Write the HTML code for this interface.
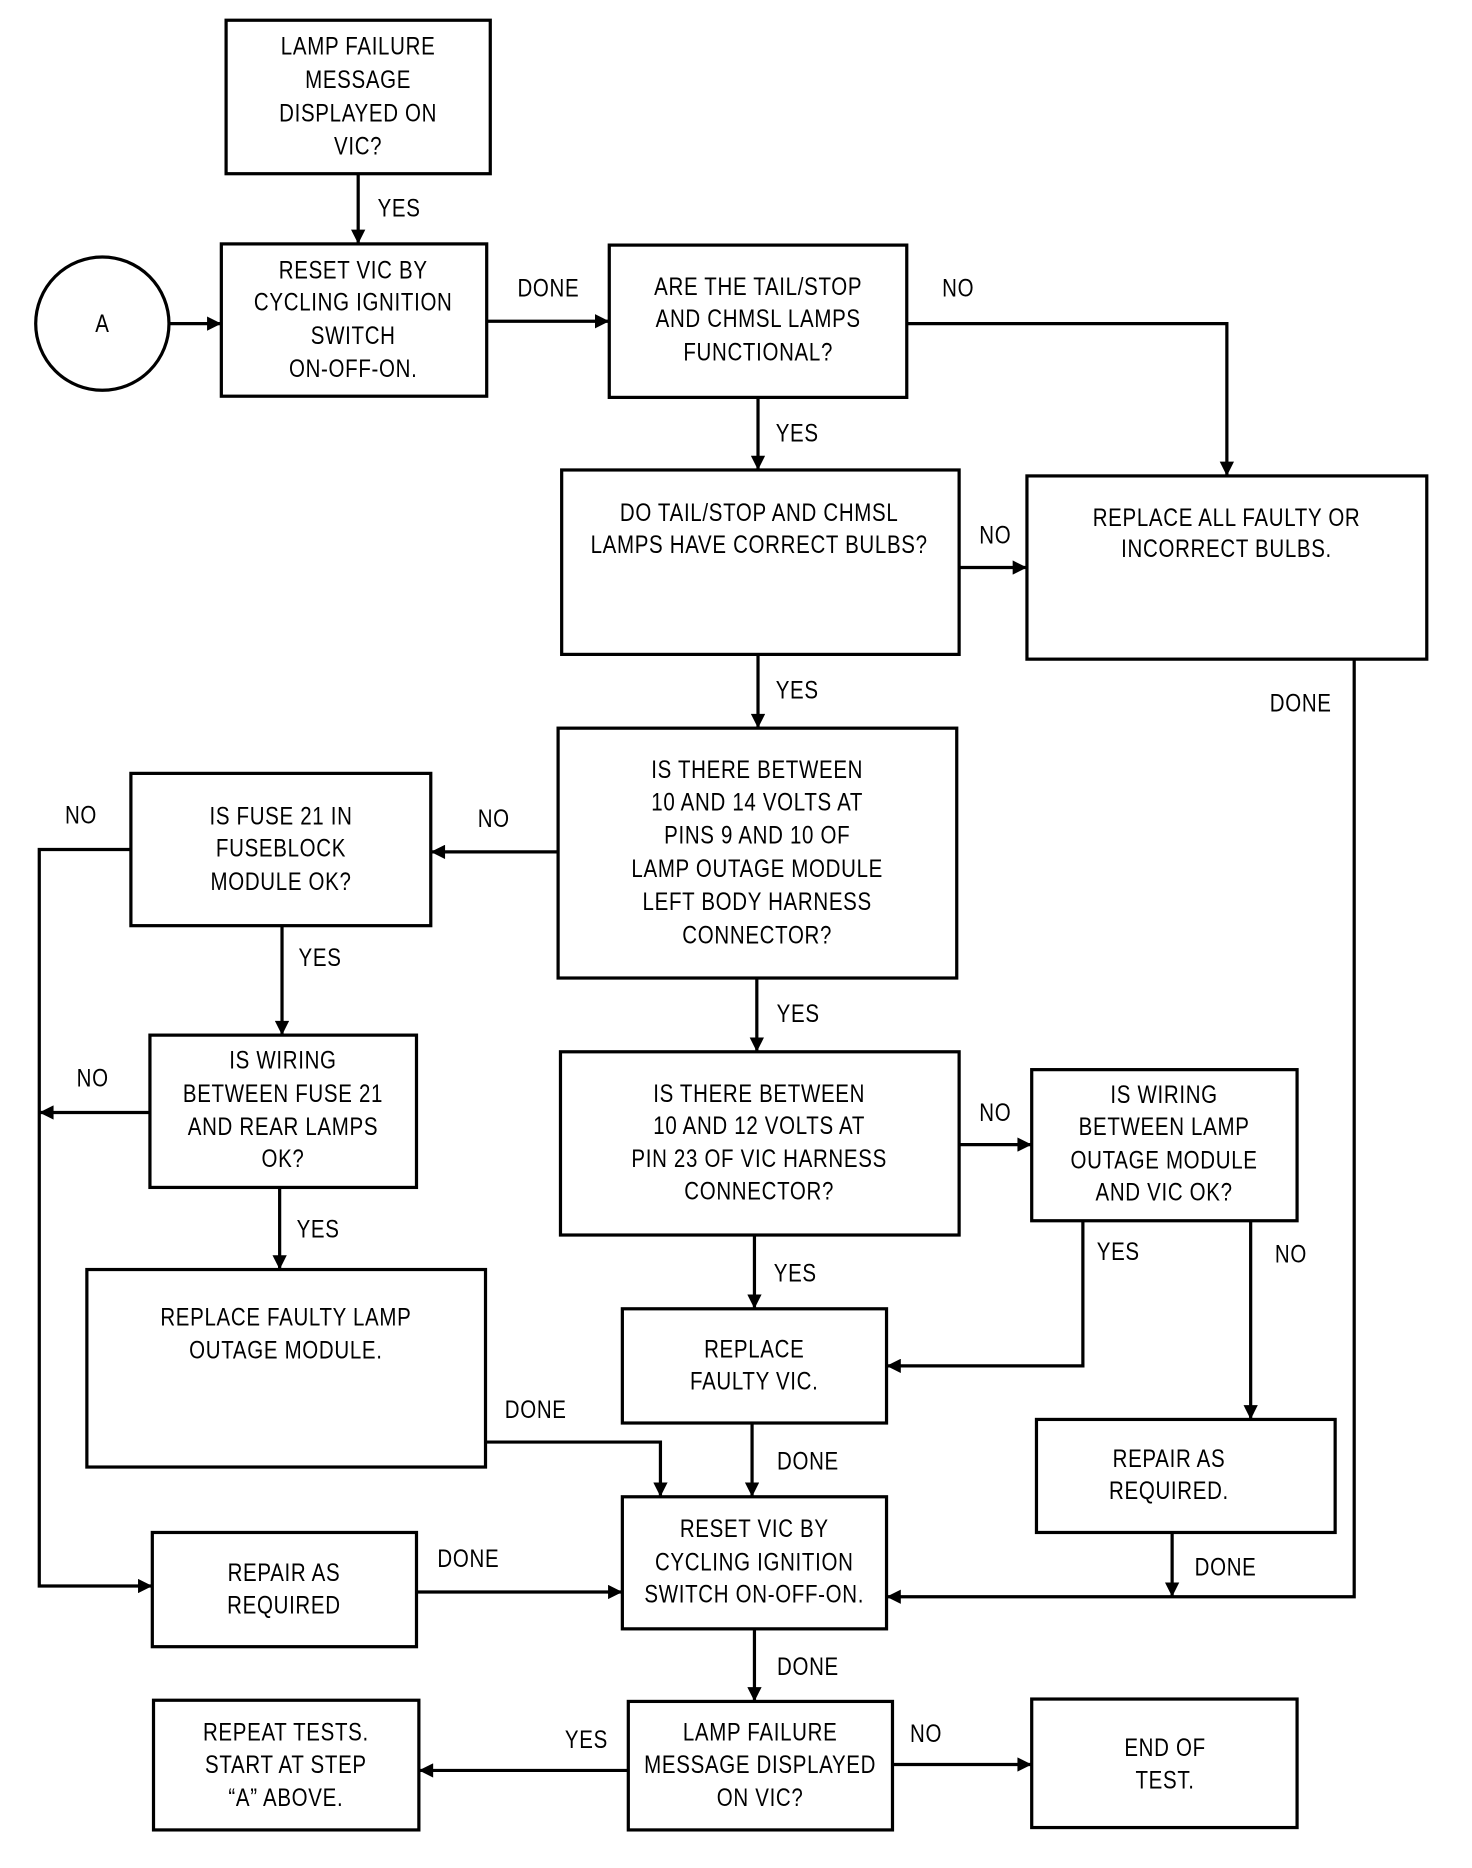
<!DOCTYPE html>
<html><head><meta charset="utf-8"><style>
html,body{margin:0;padding:0;background:#fff;}
svg{display:block;}
text{font-family:"Liberation Sans",sans-serif;font-size:21px;fill:#000;text-anchor:middle;letter-spacing:0.7px;}
</style></head><body>
<svg width="1472" height="1868" viewBox="0 0 1237 1570" preserveAspectRatio="none" xmlns="http://www.w3.org/2000/svg">
<defs>
<marker id="b" viewBox="0 0 10 10" refX="10" refY="5" markerWidth="20" markerHeight="12" markerUnits="userSpaceOnUse" orient="auto"><path d="M0,0 L10,5 L0,10 z" fill="#000"/></marker></defs>
<g fill="none" stroke="#000" stroke-width="2.7">
<rect x="190" y="17" width="222" height="129"/>
<circle cx="86" cy="272" r="56"/>
<rect x="186" y="205" width="223" height="128"/>
<rect x="512" y="206" width="250" height="128"/>
<rect x="472" y="395" width="334" height="155"/>
<rect x="863" y="400" width="336" height="154"/>
<rect x="469" y="612" width="335" height="210"/>
<rect x="110" y="650" width="252" height="128"/>
<rect x="126" y="870" width="224" height="128"/>
<rect x="73" y="1067" width="335" height="166"/>
<rect x="471" y="884" width="335" height="154"/>
<rect x="867" y="899" width="223" height="127"/>
<rect x="523" y="1100" width="222" height="96"/>
<rect x="871" y="1193" width="251" height="95"/>
<rect x="523" y="1258" width="222" height="111"/>
<rect x="128" y="1288" width="222" height="96"/>
<rect x="528" y="1430" width="222" height="108"/>
<rect x="129" y="1429" width="223" height="109"/>
<rect x="867" y="1428" width="223" height="108"/>
</g>
<g fill="none" stroke="#000" stroke-width="2.7" marker-end="url(#b)">
<path d="M301,146 V205"/>
<path d="M142,272 H186"/>
<path d="M409,270 H512"/>
<path d="M762,272 H1031 V400"/>
<path d="M637,334 V395"/>
<path d="M806,477 H863"/>
<path d="M637,550 V612"/>
<path d="M1138,554 V1342 H745"/>
<path d="M469,716 H362"/>
<path d="M110,714 H33 V1333 H128"/>
<path d="M237,778 V870"/>
<path d="M126,935 H33"/>
<path d="M235,998 V1067"/>
<path d="M408,1212 H555 V1258"/>
<path d="M636,822 V884"/>
<path d="M806,962 H867"/>
<path d="M634,1038 V1100"/>
<path d="M910,1026 V1148 H745"/>
<path d="M1051,1026 V1193"/>
<path d="M632,1196 V1258"/>
<path d="M985,1288 V1342"/>
<path d="M350,1338 H523"/>
<path d="M634,1369 V1430"/>
<path d="M528,1488 H352"/>
<path d="M750,1483 H867"/>
</g>
<g transform="scale(0.82 1)">
<text x="367" y="46">LAMP FAILURE</text><text x="367" y="74">MESSAGE</text><text x="367" y="102">DISPLAYED ON</text><text x="367" y="130">VIC?</text>
<text x="105" y="279">A</text>
<text x="362" y="234">RESET VIC BY</text><text x="362" y="261">CYCLING IGNITION</text><text x="362" y="289">SWITCH</text><text x="362" y="317">ON-OFF-ON.</text>
<text x="777" y="248">ARE THE TAIL/STOP</text><text x="777" y="275">AND CHMSL LAMPS</text><text x="777" y="303">FUNCTIONAL?</text>
<text x="778" y="438">DO TAIL/STOP AND CHMSL</text><text x="778" y="465">LAMPS HAVE CORRECT BULBS?</text>
<text x="1257" y="442">REPLACE ALL FAULTY OR</text><text x="1257" y="468">INCORRECT BULBS.</text>
<text x="776" y="654">IS THERE BETWEEN</text><text x="776" y="681">10 AND 14 VOLTS AT</text><text x="776" y="709">PINS 9 AND 10 OF</text><text x="776" y="737">LAMP OUTAGE MODULE</text><text x="776" y="765">LEFT BODY HARNESS</text><text x="776" y="793">CONNECTOR?</text>
<text x="288" y="693">IS FUSE 21 IN</text><text x="288" y="720">FUSEBLOCK</text><text x="288" y="748">MODULE OK?</text>
<text x="290" y="898">IS WIRING</text><text x="290" y="926">BETWEEN FUSE 21</text><text x="290" y="954">AND REAR LAMPS</text><text x="290" y="981">OK?</text>
<text x="293" y="1114">REPLACE FAULTY LAMP</text><text x="293" y="1142">OUTAGE MODULE.</text>
<text x="778" y="926">IS THERE BETWEEN</text><text x="778" y="953">10 AND 12 VOLTS AT</text><text x="778" y="981">PIN 23 OF VIC HARNESS</text><text x="778" y="1008">CONNECTOR?</text>
<text x="1193" y="927">IS WIRING</text><text x="1193" y="954">BETWEEN LAMP</text><text x="1193" y="982">OUTAGE MODULE</text><text x="1193" y="1009">AND VIC OK?</text>
<text x="773" y="1141">REPLACE</text><text x="773" y="1168">FAULTY VIC.</text>
<text x="1198" y="1233">REPAIR AS</text><text x="1198" y="1260">REQUIRED.</text>
<text x="773" y="1292">RESET VIC BY</text><text x="773" y="1320">CYCLING IGNITION</text><text x="773" y="1347">SWITCH ON-OFF-ON.</text>
<text x="291" y="1329">REPAIR AS</text><text x="291" y="1356">REQUIRED</text>
<text x="779" y="1463">LAMP FAILURE</text><text x="779" y="1490">MESSAGE DISPLAYED</text><text x="779" y="1518">ON VIC?</text>
<text x="293" y="1463">REPEAT TESTS.</text><text x="293" y="1490">START AT STEP</text><text x="293" y="1518">“A” ABOVE.</text>
<text x="1194" y="1476">END OF</text><text x="1194" y="1503">TEST.</text>
<text x="409" y="182">YES</text>
<text x="562" y="249">DONE</text>
<text x="982" y="249">NO</text>
<text x="817" y="371">YES</text>
<text x="1020" y="457">NO</text>
<text x="817" y="587">YES</text>
<text x="1333" y="598">DONE</text>
<text x="506" y="695">NO</text>
<text x="83" y="692">NO</text>
<text x="328" y="812">YES</text>
<text x="95" y="913">NO</text>
<text x="326" y="1040">YES</text>
<text x="549" y="1192">DONE</text>
<text x="818" y="859">YES</text>
<text x="1020" y="942">NO</text>
<text x="815" y="1077">YES</text>
<text x="1146" y="1059">YES</text>
<text x="1323" y="1061">NO</text>
<text x="828" y="1235">DONE</text>
<text x="1256" y="1324">DONE</text>
<text x="480" y="1317">DONE</text>
<text x="828" y="1408">DONE</text>
<text x="601" y="1469">YES</text>
<text x="949" y="1464">NO</text>
</g>
</svg>
</body></html>
